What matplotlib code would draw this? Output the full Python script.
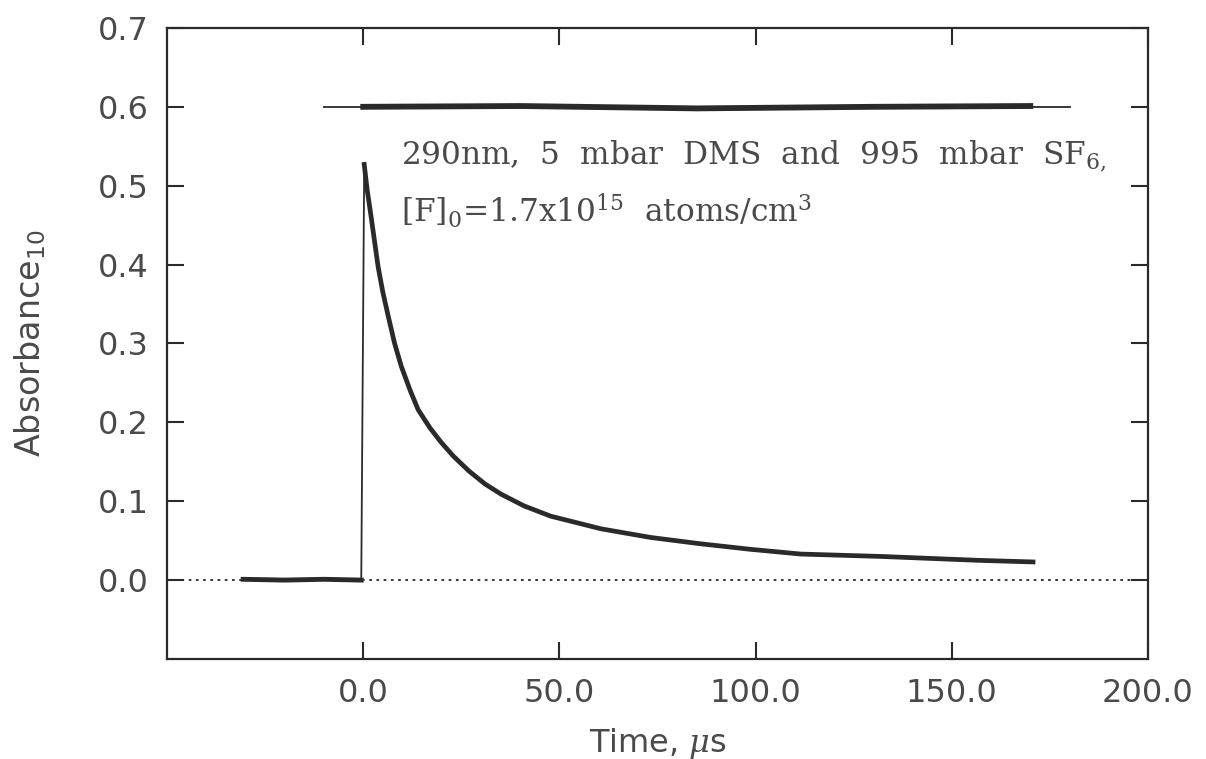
import matplotlib
matplotlib.use("Agg")
import matplotlib.pyplot as plt

# trace before the flash (baseline)
baseline_time = [-30.6, -20.0, -10.0, -0.5]
baseline_abs = [0.001, 0.000, 0.001, 0.000]

# decay after the flash
decay_time = [0.25, 1.0, 2.0, 3.8, 5.0, 6.4, 8.0, 9.7, 12.0, 14.0, 17.0, 19.8, 23.0,
              27.0, 31.0, 35.1, 41.0, 47.8, 60.6, 73.3, 86.0, 98.7, 111.5, 131.8,
              157.0, 170.7]
decay_abs = [0.527, 0.495, 0.461, 0.397, 0.365, 0.334, 0.300, 0.271, 0.240, 0.216,
             0.193, 0.175, 0.157, 0.138, 0.122, 0.109, 0.094, 0.081, 0.065, 0.054,
             0.046, 0.039, 0.033, 0.030, 0.025, 0.023]

# 100 % level trace and its reference line
top_time = [0.0, 40.0, 85.0, 130.0, 170.0]
top_abs = [0.600, 0.601, 0.598, 0.600, 0.601]
ref_time = [-10.0, 180.0]
ref_abs = [0.6, 0.6]

x_ticks = [0, 50, 100, 150, 200]
x_labels = ['0.0', '50.0', '100.0', '150.0', '200.0']
y_ticks = [0.0, 0.1, 0.2, 0.3, 0.4, 0.5, 0.6, 0.7]
y_labels = ['0.0', '0.1', '0.2', '0.3', '0.4', '0.5', '0.6', '0.7']

plt.rcParams['mathtext.fontset'] = 'dejavuserif'
ink = '#2a2a2a'
txt = '#4a4a4a'

fig = plt.figure(figsize=(12.06, 7.59), dpi=100)
ax = fig.add_axes([0.1385, 0.1318, 0.8134, 0.8314])

ax.axhline(0, ls=(0, (1.5, 2.5)), lw=1.3, color=ink)

# full trace thin (gives the step at t=0), noisy parts thick
ax.plot(baseline_time + decay_time, baseline_abs + decay_abs, '-', lw=1.3, color=ink)
ax.plot(baseline_time, baseline_abs, '-', lw=3.5, color=ink)
ax.plot(decay_time, decay_abs, '-', lw=3.4, color=ink, solid_joinstyle='round')
ax.plot(ref_time, ref_abs, '-', lw=1.3, color=ink)
ax.plot(top_time, top_abs, '-', lw=4.2, color=ink)

ax.text(9.7, 0.527, '290nm,  5  mbar  DMS  and  995  mbar  SF$_{6,}$',
        family='DejaVu Serif', fontsize=22.5, color=txt, va='baseline')
ax.text(9.7, 0.453, '[F]$_{0}$=1.7x10$^{15}$  atoms/cm$^{3}$',
        family='DejaVu Serif', fontsize=22.5, color=txt, va='baseline')

ax.set_xlim(-50, 200)
ax.set_ylim(-0.1, 0.7)
ax.set_xticks(x_ticks)
ax.set_xticklabels(x_labels)
ax.set_yticks(y_ticks)
ax.set_yticklabels(y_labels)
ax.tick_params(direction='in', length=12, width=1.5, top=True, right=True,
               labelsize=23, colors=ink, labelcolor=txt)
ax.tick_params(axis='x', pad=14)
ax.tick_params(axis='y', pad=13)
for s in ax.spines.values():
    s.set_linewidth(1.6)
    s.set_color(ink)

ax.set_xlabel('Time, $\\mu$s', fontsize=23, color=txt, labelpad=12)
ax.set_ylabel('Absorbance$_{\\mathsf{10}}$', fontsize=24, color=txt, labelpad=36)

fig.savefig('out.png', dpi=100, facecolor='white')
